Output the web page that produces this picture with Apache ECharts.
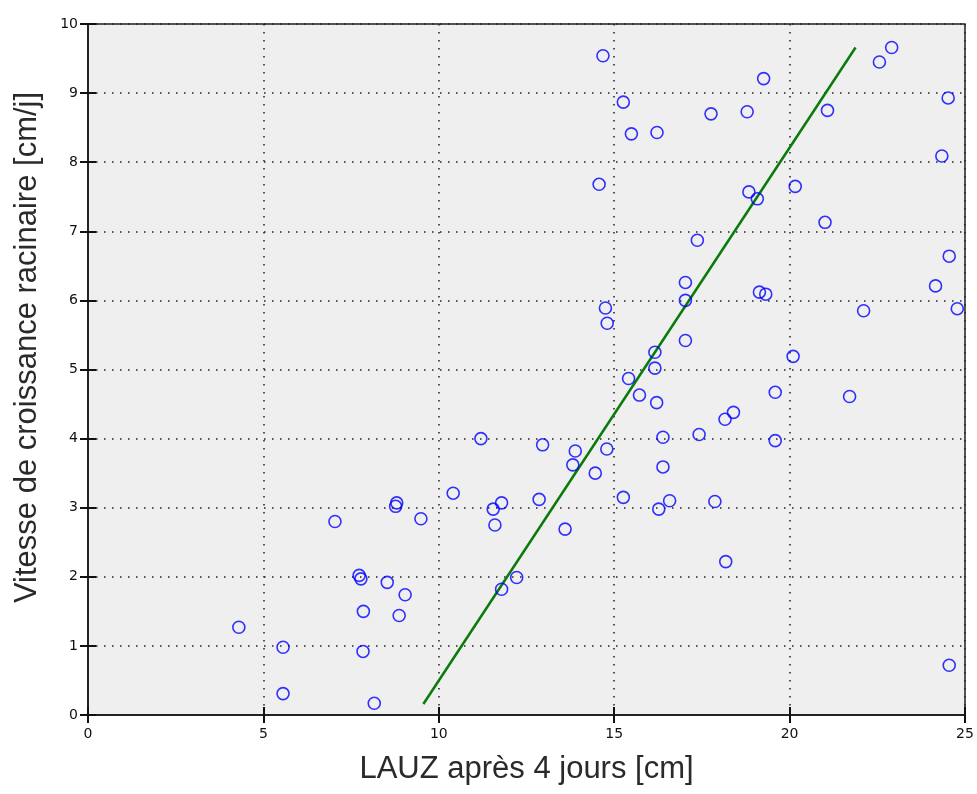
<!DOCTYPE html>
<html>
<head>
<meta charset="utf-8">
<script src="https://cdn.jsdelivr.net/npm/echarts@6/dist/echarts.min.js"></script>
<style>
  html, body { margin: 0; padding: 0; background: #fff; }
  #chart { width: 977px; height: 794px; }
</style>
</head>
<body>
<div id="chart"></div>
<script>
// LAUZ after 4 days [cm]
const lauz = [
  4.30, 5.56, 5.56, 7.04, 7.73, 7.78, 7.85, 7.84, 8.16, 8.53,
  8.77, 8.80, 8.87, 9.04, 9.49, 10.41, 11.20, 11.55, 11.60, 11.79,
  11.79, 12.22, 12.86, 12.96, 13.60, 13.82, 13.89, 14.46, 14.57, 14.68,
  14.75, 14.80, 14.79, 15.26, 15.26, 15.49, 15.41, 15.72, 16.16, 16.16,
  16.22, 16.21, 16.27, 16.39, 16.39, 16.58, 17.03, 17.03, 17.03, 17.37,
  17.42, 17.76, 17.87, 18.16, 18.18, 18.40, 18.79, 18.84, 19.08, 19.14,
  19.32, 19.26, 19.59, 19.59, 20.10, 20.16, 21.01, 21.08, 21.71, 22.11,
  22.56, 22.91, 24.16, 24.34, 24.52, 24.55, 24.55, 24.78
];
// root growth rate [cm/d]
const growth = [
  1.27, 0.98, 0.31, 2.80, 2.02, 1.97, 1.50, 0.92, 0.17, 1.92,
  3.02, 3.07, 1.44, 1.74, 2.84, 3.21, 4.00, 2.98, 2.75, 3.07,
  1.82, 1.99, 3.12, 3.91, 2.69, 3.62, 3.82, 3.50, 7.68, 9.54,
  5.89, 5.67, 3.85, 8.87, 3.15, 8.41, 4.87, 4.63, 5.25, 5.02,
  8.43, 4.52, 2.98, 4.02, 3.59, 3.10, 6.26, 6.00, 5.42, 6.87,
  4.06, 8.70, 3.09, 4.28, 2.22, 4.38, 8.73, 7.57, 7.47, 6.12,
  6.09, 9.21, 4.67, 3.97, 5.19, 7.65, 7.13, 8.75, 4.61, 5.85,
  9.45, 9.66, 6.21, 8.09, 8.93, 6.64, 0.72, 5.88
];
// fitted regression line, drawn between its two end points
const fitX = [9.56, 21.88];
const fitY = [0.16, 9.66];

const xTicks = [0, 5, 10, 15, 20, 25];
const yTicks = [0, 1, 2, 3, 4, 5, 6, 7, 8, 9, 10];

const points = lauz.map((v, i) => [v, growth[i]]);
const fitLine = fitX.map((v, i) => [v, fitY[i]]);

const labelFont = { fontFamily: 'DejaVu Sans, sans-serif', fontSize: 14, color: '#111' };
const titleFont = { fontFamily: 'Liberation Sans, Arial, sans-serif', fontSize: 31, color: '#2a2a2a' };
const dotted = { color: '#222', width: 1.5, type: [1.5, 6.5] };
const frame = { show: true, lineStyle: { color: '#222', width: 1.5 } };
const ticksIn = { show: true, inside: true, length: 8, lineStyle: { color: '#111', width: 2 } };

const chart = echarts.init(document.getElementById('chart'), null, { renderer: 'canvas' });
chart.setOption({
  animation: false,
  grid: {
    left: 88, right: 12, top: 24, bottom: 79,
    show: true, backgroundColor: '#efefef', borderColor: '#222', borderWidth: 1.5
  },
  xAxis: [
    {
      type: 'value', min: xTicks[0], max: xTicks[xTicks.length - 1], interval: 5,
      name: 'LAUZ après 4 jours [cm]', nameLocation: 'middle', nameGap: 39,
      nameTextStyle: titleFont,
      axisLine: frame, axisTick: ticksIn,
      axisLabel: Object.assign({ margin: 12 }, labelFont),
      splitLine: { show: true, lineStyle: dotted }
    },
    {
      type: 'value', position: 'top', min: xTicks[0], max: xTicks[xTicks.length - 1], interval: 5,
      axisLine: frame, axisTick: ticksIn, axisLabel: { show: false }, splitLine: { show: false }
    }
  ],
  yAxis: [
    {
      type: 'value', min: yTicks[0], max: yTicks[yTicks.length - 1], interval: 1,
      name: 'Vitesse de croissance racinaire [cm/j]', nameLocation: 'middle', nameGap: 45,
      nameTextStyle: Object.assign({ padding: [0, 0, 0, 44] }, titleFont),
      axisLine: frame, axisTick: ticksIn,
      axisLabel: Object.assign({ margin: 10 }, labelFont),
      splitLine: { show: true, lineStyle: dotted }
    },
    {
      type: 'value', position: 'right', min: yTicks[0], max: yTicks[yTicks.length - 1], interval: 1,
      axisLine: frame, axisTick: ticksIn, axisLabel: { show: false }, splitLine: { show: false }
    }
  ],
  series: [
    {
      type: 'line', data: fitLine, xAxisIndex: 0, yAxisIndex: 0,
      showSymbol: false, symbol: 'none',
      lineStyle: { color: '#0a7a0a', width: 2.5 }, z: 3
    },
    {
      type: 'scatter', data: points, xAxisIndex: 0, yAxisIndex: 0,
      symbol: 'circle', symbolSize: 12, clip: false,
      itemStyle: { color: 'rgba(0,0,0,0)', borderColor: '#0000ff', borderWidth: 1.6 }, z: 4
    }
  ]
});
</script>
</body>
</html>
